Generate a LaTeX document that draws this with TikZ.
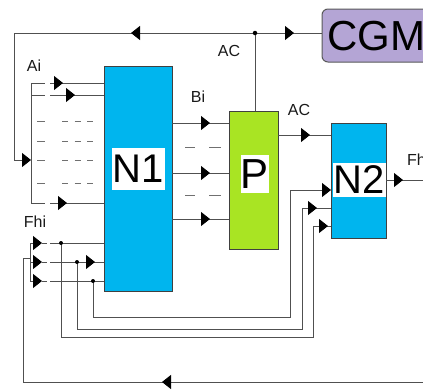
\documentclass[tikz,border=0pt]{standalone}
\usepackage{fontspec}
\setmainfont{Liberation Sans}
\usetikzlibrary{arrows.meta,decorations.markings}
\definecolor{cblue}{HTML}{00B5EE}
\definecolor{cgreen}{HTML}{A9E423}
\definecolor{cpurple}{HTML}{B4A5D5}
\definecolor{wirec}{HTML}{505050}
\definecolor{dashc}{HTML}{707070}
\tikzset{
  ahd/.tip={Triangle[length=9pt,width=14pt,color=black]},
  wire/.style={draw=wirec, line width=1pt},
  dashw/.style={draw=dashc, line width=1pt},
  tipat/.style={postaction={decorate,decoration={markings,
      mark=at position #1 with {\arrow{ahd}}}}},
  block/.style={draw=black!75, line width=1pt, inner sep=0pt},
  big/.style={fill=white, inner sep=0pt, text=black, font=\fontsize{40}{40}\selectfont},
  lbl/.style={inner sep=0pt, text=black!90, font=\fontsize{16}{16}\selectfont},
  jdot/.style={circle, fill=black, inner sep=0pt, minimum size=4pt},
}
\begin{document}
\begin{tikzpicture}[x=1pt,y=-1pt]
\useasboundingbox (0,0) rectangle (423,389);
\clip (0,0) rectangle (423,389);

% ---- blocks ----
\node[block, fill=cblue, minimum width=68pt, minimum height=225pt] (N1) at (138,178.5) {};
\node[big, minimum width=53pt, minimum height=42pt] (N1t) at (138.5,169) {N1};
\node[block, fill=cgreen, minimum width=49pt, minimum height=138pt] (P) at (253.5,180) {};
\node[big, font=\fontsize{42}{42}\selectfont, minimum width=28pt, minimum height=38pt] (Pt) at (255,174) {P};
\node[block, fill=cblue, minimum width=55pt, minimum height=115pt] (N2) at (358.5,180.5) {};
\node[big, minimum width=53pt, minimum height=34pt] (N2t) at (359.5,180) {N2};
\node[draw=black!65, line width=1pt, fill=cpurple, rounded corners=6pt,
      minimum width=120pt, minimum height=53pt, inner sep=0pt] (CGM) at (382,35.5) {};
\node[anchor=west, inner sep=0pt, font=\fontsize{42}{42}\selectfont] (CGMt) at (327,36) {CGM};

% ---- named points ----
\coordinate (dotAC) at (255,33);
\coordinate (Ptop) at (255,111);
\coordinate (CGMin) at (322,33);
\coordinate (fbA) at (31,160);
\coordinate (fbR) at (423,382);
\coordinate (fbF) at (30,258);
\coordinate (d1) at (61,243);
\coordinate (d2) at (77,262);
\coordinate (d3) at (93,281);

% ---- AC feedback and CGM ----
\draw[wire] (Ptop) -- (dotAC);
\draw[wire, tipat=39pt] (dotAC) -- (CGMin);
\draw[wire, tipat=124pt, -ahd] (dotAC) -- (14,33) -- (14,160) -- (fbA);
\node[jdot, minimum size=4.5pt] at (dotAC) {};

% ---- Ai inputs ----
\draw[wire] (31,83) -- (31,203);
\foreach \y/\d in {83/13, 95/25, 203/17}{
  \draw[wire] (31,\y) -- (45,\y);
  \draw[wire, tipat=\d pt] (50,\y) -- (104,\y);
}
\foreach \y in {121,141,160,183}{
  \draw[dashw] (37,\y) -- (45,\y);
  \draw[dashw, dash pattern=on 6pt off 6.5pt] (62,\y) -- (93,\y);
}

% ---- Fhi inputs ----
\draw[wire] (30,243) -- (30,281);
\foreach \y in {243,262,281}{
  \draw[wire, -ahd] (30,\y) -- (42,\y);
  \draw[wire] (42,\y) -- (47,\y);
}
\draw[wire] (50,243) -- (104,243);
\draw[wire, tipat=45pt] (50,262) -- (104,262);
\draw[wire] (50,281) -- (104,281);
\draw[wire, tipat=261pt] (fbR) -- (23,382) -- (23,258) -- (fbF);

% ---- Fhi branches to N2 ----
\draw[wire, -ahd] (d3) -- (93,317) -- (290,317) -- (290,190) -- (331,190);
\draw[wire, tipat=-14pt] (d2) -- (77,329) -- (302,329) -- (302,208) -- (331,208);
\draw[wire, tipat=-3pt] (d1) -- (61,337) -- (313,337) -- (313,226) -- (331,226);
\foreach \p in {d1,d2,d3} \node[jdot] at (\p) {};

% ---- Bi between N1 and P ----
\foreach \y in {123,173,219}{
  \draw[wire, tipat=38pt] (172,\y) -- (229,\y);
}
\foreach \y in {147,195}{
  \draw[dashw] (185,\y) -- (195,\y);
  \draw[dashw] (209,\y) -- (221,\y);
}

% ---- AC to N2, N2 output ----
\draw[wire, tipat=32pt] (278,135) -- (331,135);
\draw[wire, tipat=17pt] (386,180) -- (423,180);

% ---- labels ----
\node[lbl] (lAi) at (34,66) {Ai};
\node[lbl] (lBi) at (198,97) {Bi};
\node[lbl] (lAC1) at (229,51) {AC};
\node[lbl] (lAC2) at (299,110) {AC};
\node[lbl] (lFhi) at (35,222) {Fhi};
\node[lbl, anchor=west] (lFho) at (407,160) {Fhi};
\end{tikzpicture}
\end{document}
